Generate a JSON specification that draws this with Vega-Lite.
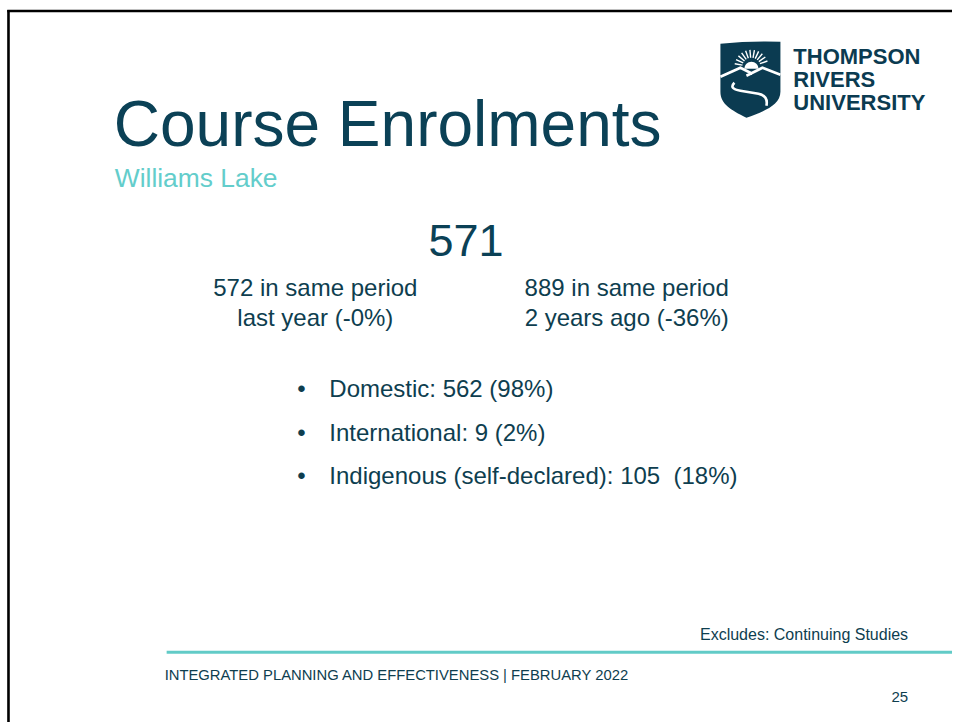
{
  "$schema": "https://vega.github.io/schema/vega-lite/v6.json",
  "width": 954,
  "height": 724,
  "autosize": {"type": "fit", "contains": "padding"},
  "padding": 0,
  "background": "white",
  "config": {"view": {"stroke": null}, "text": {"font": "Liberation Sans"}},
  "data": {"values": [
    {"role": "frame", "x": 8.5, "y": 10, "x2": 8.5, "y2": 724},
    {"role": "frame", "x": 7.3, "y": 11, "x2": 954, "y2": 11},
    {"role": "divider", "x": 167, "y": 654, "x2": 954, "y2": 654},
    {"role": "title", "text": "Course Enrolments", "x": 114, "y": 146},
    {"role": "subtitle", "text": "Williams Lake", "x": 115, "y": 188},
    {"role": "total", "text": "571", "x": 467, "y": 257},
    {"role": "compare", "text": "572 in same period", "x": 316, "y": 297},
    {"role": "compare", "text": "last year (-0%)", "x": 316, "y": 327},
    {"role": "compare", "text": "889 in same period", "x": 628, "y": 297},
    {"role": "compare", "text": "2 years ago (-36%)", "x": 628, "y": 327},
    {"role": "bullet", "text": "•", "x": 302, "y": 398},
    {"role": "bullet", "text": "•", "x": 302, "y": 442},
    {"role": "bullet", "text": "•", "x": 302, "y": 485},
    {"role": "item", "text": "Domestic: 562 (98%)", "x": 330, "y": 398},
    {"role": "item", "text": "International: 9 (2%)", "x": 330, "y": 442},
    {"role": "item", "text": "Indigenous (self-declared): 105\u00a0 (18%)", "x": 330, "y": 485},
    {"role": "note", "text": "Excludes: Continuing Studies", "x": 910, "y": 642},
    {"role": "footer", "text": "INTEGRATED PLANNING AND EFFECTIVENESS | FEBRUARY 2022", "x": 165, "y": 682},
    {"role": "page", "text": "25", "x": 910, "y": 704},
    {"role": "logo", "text": "THOMPSON", "x": 795, "y": 64.5},
    {"role": "logo", "text": "RIVERS", "x": 795, "y": 87.5},
    {"role": "logo", "text": "UNIVERSITY", "x": 795, "y": 110.5},
    {"role": "shield", "x": 752, "y": 80}
  ]},
  "encoding": {
    "x": {"field": "x", "type": "quantitative", "scale": {"domain": [0, 954], "nice": false, "zero": false}, "axis": null},
    "y": {"field": "y", "type": "quantitative", "scale": {"domain": [0, 724], "nice": false, "zero": false, "reverse": true}, "axis": null}
  },
  "layer": [
    {
      "transform": [{"filter": "datum.role === 'frame'"}],
      "mark": {"type": "rule", "color": "#000000", "strokeWidth": 2.6},
      "encoding": {"x2": {"field": "x2"}, "y2": {"field": "y2"}}
    },
    {
      "transform": [{"filter": "datum.role === 'divider'"}],
      "mark": {"type": "rule", "color": "#62CBC7", "strokeWidth": 3},
      "encoding": {"x2": {"field": "x2"}, "y2": {"field": "y2"}}
    },
    {
      "transform": [{"filter": "datum.role === 'title'"}],
      "mark": {"type": "text", "align": "left", "baseline": "alphabetic", "fontSize": 64, "color": "#0B4156"},
      "encoding": {"text": {"field": "text"}}
    },
    {
      "transform": [{"filter": "datum.role === 'subtitle'"}],
      "mark": {"type": "text", "align": "left", "baseline": "alphabetic", "fontSize": 26.4, "color": "#63CDCB"},
      "encoding": {"text": {"field": "text"}}
    },
    {
      "transform": [{"filter": "datum.role === 'total'"}],
      "mark": {"type": "text", "align": "center", "baseline": "alphabetic", "fontSize": 45, "color": "#0B4156"},
      "encoding": {"text": {"field": "text"}}
    },
    {
      "transform": [{"filter": "datum.role === 'compare'"}],
      "mark": {"type": "text", "align": "center", "baseline": "alphabetic", "fontSize": 24, "color": "#0E3E4F"},
      "encoding": {"text": {"field": "text"}}
    },
    {
      "transform": [{"filter": "datum.role === 'bullet'"}],
      "mark": {"type": "text", "align": "center", "baseline": "alphabetic", "fontSize": 24, "color": "#0E3E4F"},
      "encoding": {"text": {"field": "text"}}
    },
    {
      "transform": [{"filter": "datum.role === 'item'"}],
      "mark": {"type": "text", "align": "left", "baseline": "alphabetic", "fontSize": 24, "color": "#0E3E4F"},
      "encoding": {"text": {"field": "text"}}
    },
    {
      "transform": [{"filter": "datum.role === 'note'"}],
      "mark": {"type": "text", "align": "right", "baseline": "alphabetic", "fontSize": 16, "color": "#0E3E4F"},
      "encoding": {"text": {"field": "text"}}
    },
    {
      "transform": [{"filter": "datum.role === 'footer'"}],
      "mark": {"type": "text", "align": "left", "baseline": "alphabetic", "fontSize": 14.8, "color": "#0E3E4F"},
      "encoding": {"text": {"field": "text"}}
    },
    {
      "transform": [{"filter": "datum.role === 'page'"}],
      "mark": {"type": "text", "align": "right", "baseline": "alphabetic", "fontSize": 15, "color": "#0E3E4F"},
      "encoding": {"text": {"field": "text"}}
    },
    {
      "transform": [{"filter": "datum.role === 'logo'"}],
      "mark": {"type": "text", "align": "left", "baseline": "alphabetic", "fontSize": 22, "fontWeight": "bold", "color": "#0B3B51"},
      "encoding": {"text": {"field": "text"}}
    },
    {
      "transform": [{"filter": "datum.role === 'shield'"}],
      "mark": {"type": "point", "shape": "M -30 -36 Q 0 -39 30 -38 L 30 12 C 30 26 12 32 -4 38 C -20 30 -30 24 -30 12 Z", "size": 4, "filled": true, "opacity": 1, "color": "#0B3B51", "strokeWidth": 0}
    },
    {
      "transform": [{"filter": "datum.role === 'shield'"}],
      "mark": {"type": "point", "shape": "M -6 -11 A 7 7 0 0 1 8 -11 Z", "size": 4, "filled": true, "opacity": 1, "color": "#FFFFFF", "strokeWidth": 0}
    },
    {
      "transform": [{"filter": "datum.role === 'shield'"}],
      "mark": {"type": "point", "shape": "M -7.9 -14.6 L -15.7 -16 M -7.2 -16.8 L -14.4 -20.2 M -5.9 -18.8 L -12 -23.9 M -4.2 -20.4 L -8.8 -26.9 M -2.1 -21.5 L -4.8 -29 M 0.2 -22 L -0.5 -29.9 M 2.6 -21.9 L 4 -29.7 M 4.8 -21.2 L 8.2 -28.4 M 6.8 -19.9 L 11.9 -26 M 8.4 -18.2 L 14.9 -22.8 M 9.5 -16.1 L 17 -18.8", "size": 4, "filled": false, "opacity": 1, "color": "#FFFFFF", "strokeWidth": 1.4}
    },
    {
      "transform": [{"filter": "datum.role === 'shield'"}],
      "mark": {"type": "point", "shape": "M -30 -3 L -10 -12 L 2 -6 M -4 -4 L 12 -12 L 30 -5 M -16 3 Q -22 9 -10 11 L 8 14 Q 18 16 16 26", "size": 4, "filled": false, "opacity": 1, "color": "#FFFFFF", "strokeWidth": 2.6}
    }
  ]
}
